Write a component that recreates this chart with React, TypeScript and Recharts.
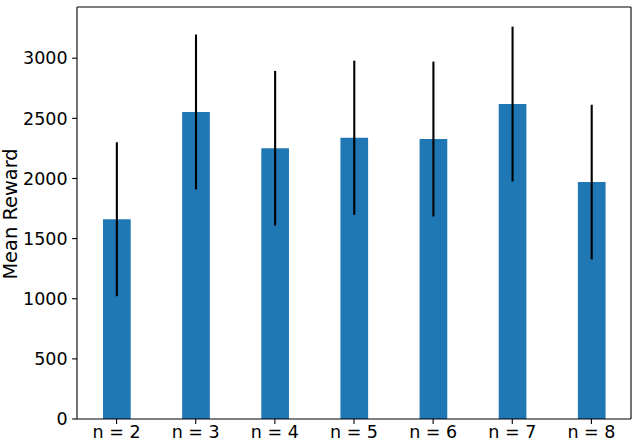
import React from 'react';
import { BarChart, Bar, XAxis, YAxis, ErrorBar } from 'recharts';

const categories = ['n = 2', 'n = 3', 'n = 4', 'n = 5', 'n = 6', 'n = 7', 'n = 8'];
const meanReward = [1661, 2553, 2252, 2339, 2328, 2619, 1970];
const stdReward = [640, 644, 643, 641, 644, 644, 643];
const yTicks = [0, 500, 1000, 1500, 2000, 2500, 3000];

const data = categories.map((c, i) => ({ name: c, mean: meanReward[i], err: stdReward[i] }));

const FONT = 'DejaVu Sans';

const YLabel = () => (
  <text
    x={16.5}
    y={214}
    transform="rotate(-90, 16.5, 214)"
    textAnchor="middle"
    fill="#000"
    fontSize={19.4}
    fontFamily={FONT}
  >
    Mean Reward
  </text>
);

export default function App() {
  return (
    <div style={{ position: 'absolute', left: 0, top: 0, width: 639, height: 445, background: '#fff' }}>
      <BarChart
        width={639}
        height={445}
        data={data}
        margin={{ top: 6, right: 7, bottom: 0, left: 0 }}
        barCategoryGap={0}
      >
        <XAxis
          dataKey="name"
          xAxisId="bottom"
          height={26}
          interval={0}
          axisLine={{ stroke: '#000', strokeWidth: 1.1 }}
          tickLine={{ stroke: '#000', strokeWidth: 1.1 }}
          tickSize={4.9}
          tickMargin={2}
          tick={{ fill: '#000', fontSize: 17.5, fontFamily: FONT }}
        />
        <XAxis
          dataKey="name"
          xAxisId="top"
          orientation="top"
          height={1}
          tick={false}
          tickLine={false}
          axisLine={{ stroke: '#000', strokeWidth: 1.1 }}
        />
        <YAxis
          yAxisId="left"
          width={77}
          domain={[0, 3426]}
          ticks={yTicks}
          allowDataOverflow
          axisLine={{ stroke: '#000', strokeWidth: 1.1 }}
          tickLine={{ stroke: '#000', strokeWidth: 1.1 }}
          tickSize={4.9}
          tickMargin={4.5}
          tick={{ fill: '#000', fontSize: 17.5, fontFamily: FONT }}
          label={<YLabel />}
        />
        <YAxis
          yAxisId="right"
          orientation="right"
          width={1}
          domain={[0, 3426]}
          tick={false}
          tickLine={false}
          axisLine={{ stroke: '#000', strokeWidth: 1.1 }}
        />
        <Bar
          dataKey="mean"
          xAxisId="bottom"
          yAxisId="left"
          fill="#1f77b4"
          barSize={27.7}
          isAnimationActive={false}
        >
          <ErrorBar dataKey="err" width={0} stroke="#000" strokeWidth={2.1} direction="y" />
        </Bar>
      </BarChart>
    </div>
  );
}
